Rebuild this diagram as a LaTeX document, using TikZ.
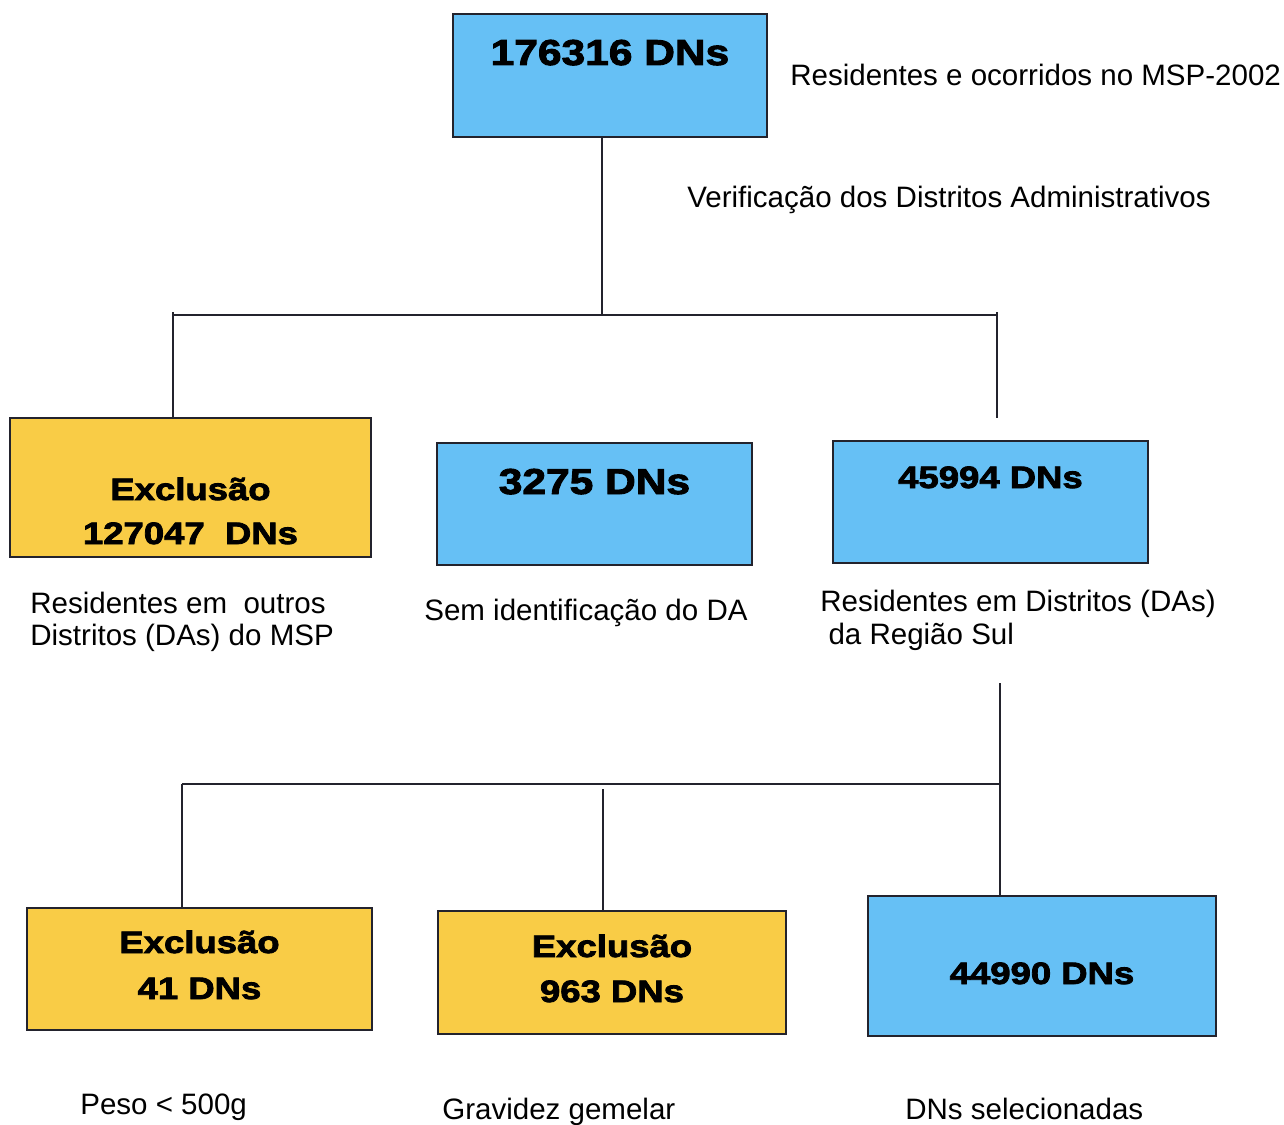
\documentclass[tikz,border=0pt]{standalone}
\usepackage{fontspec}
\setmainfont{Liberation Sans}
\newfontfamily\heavy{Liberation Sans Bold}[FakeBold=2.6,FakeStretch=1.18]
\definecolor{boxblue}{RGB}{102,192,245}
\definecolor{boxgold}{RGB}{249,204,70}
\definecolor{inkline}{RGB}{35,35,45}
\begin{document}
\begin{tikzpicture}[x=0.02cm,y=-0.02cm,
  flowbox/.style={draw=inkline,line width=1.1pt,inner sep=0pt,rectangle},
  bluebox/.style={flowbox,fill=boxblue},
  goldbox/.style={flowbox,fill=boxgold},
  bignum/.style={anchor=base,inner sep=0pt,font=\heavy\fontsize{20.5pt}{24pt}\selectfont},
  smallnum/.style={anchor=base,inner sep=0pt,font=\heavy\fontsize{17.6pt}{21pt}\selectfont},
  note/.style={anchor=base west,inner sep=0pt,font=\fontsize{16.8pt}{20pt}\selectfont},
  link/.style={draw=inkline,line width=1.1pt}]
\useasboundingbox (0,0) rectangle (1284,1125);

% boxes
\node[bluebox,minimum width={314*0.02cm},minimum height={123*0.02cm}] (top) at (610,75.5) {};
\node[goldbox,minimum width={361*0.02cm},minimum height={139*0.02cm}] (exc1) at (190.5,487.5) {};
\node[bluebox,minimum width={315*0.02cm},minimum height={122*0.02cm}] (sem) at (594.5,504) {};
\node[bluebox,minimum width={315*0.02cm},minimum height={122*0.02cm}] (sul) at (990.5,502) {};
\node[goldbox,minimum width={345*0.02cm},minimum height={122*0.02cm}] (exc2) at (199.5,969) {};
\node[goldbox,minimum width={348*0.02cm},minimum height={123*0.02cm}] (exc3) at (612,972.5) {};
\node[bluebox,minimum width={348*0.02cm},minimum height={140*0.02cm}] (sel) at (1042,966) {};

% counts inside the boxes
\node[bignum] (topnum) at (610,65) {176316 DNs};
\node[smallnum] (exc1a) at (190.5,500) {Exclusão};
\node[smallnum] (exc1b) at (190.5,544) {127047~ DNs};
\node[bignum] (semnum) at (594.5,494) {3275 DNs};
\node[smallnum] (sulnum) at (990.5,488) {45994 DNs};
\node[smallnum] (exc2a) at (199.5,953) {Exclusão};
\node[smallnum] (exc2b) at (199.5,999) {41 DNs};
\node[smallnum] (exc3a) at (612,957) {Exclusão};
\node[smallnum] (exc3b) at (612,1002) {963 DNs};
\node[smallnum] (selnum) at (1042,984) {44990 DNs};

% descriptions
\node[note] (t1) at (790,86) {Residentes e ocorridos no MSP-2002};
\node[note] (t2) at (687,208) {Verificação dos Distritos Administrativos};
\node[note] (t3) at (30,613) {Residentes em \ outros};
\node[note] (t4) at (30,645) {Distritos (DAs) do MSP};
\node[note] (t5) at (424,620) {Sem identificação do DA};
\node[note] (t6) at (820,611) {Residentes em Distritos (DAs)};
\node[note] (t7) at (820,644) {\ da Região Sul};
\node[note] (t8) at (80,1114) {Peso < 500g};
\node[note] (t9) at (442,1119) {Gravidez gemelar};
\node[note] (t10) at (905,1119) {DNs selecionadas};

% junction points
\coordinate (j1) at (602,315);
\coordinate (jL) at (173,315);
\coordinate (jR) at (997,315);
\coordinate (jRend) at (997,418);
\coordinate (sTop) at (1000,683);
\coordinate (kL) at (182,784);
\coordinate (kR) at (1000,784);
\coordinate (kM) at (603,789);

% connectors
\draw[link] (j1 |- top.south) -- (j1);
\draw[link] (jL) -- (jR);
\draw[link] ([yshift=0.06cm]jL) -- (jL |- exc1.north);
\draw[link] ([yshift=0.06cm]jR) -- (jRend);
\draw[link] (sTop) -- (sTop |- sel.north);
\draw[link] (kL) -- (kR);
\draw[link] (kL) -- (kL |- exc2.north);
\draw[link] (kM) -- (kM |- exc3.north);
\end{tikzpicture}
\end{document}
